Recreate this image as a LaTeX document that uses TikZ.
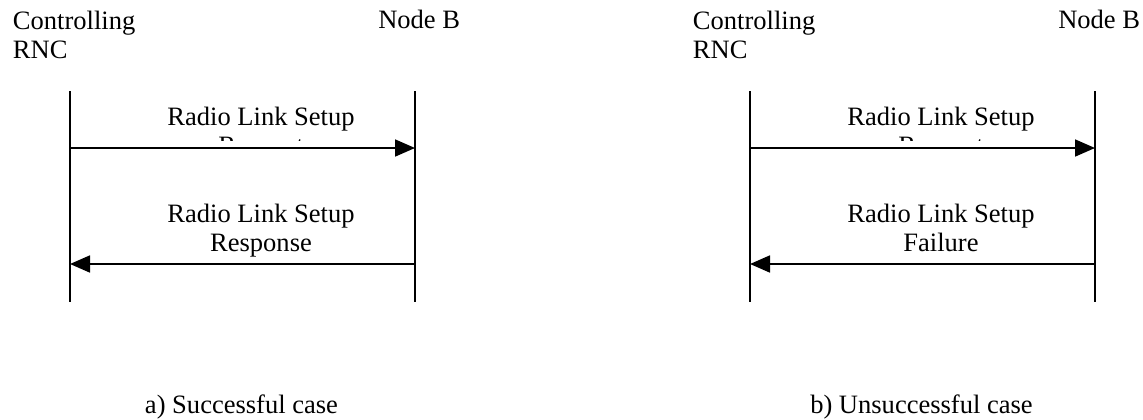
\documentclass[tikz,border=0pt]{standalone}
\usepackage{fontspec}
\setmainfont{Liberation Serif}
\usetikzlibrary{arrows.meta}

\begin{document}
\begin{tikzpicture}[x=0.75pt,y=-0.75pt,
    every node/.style={inner sep=0pt,font=\fontsize{19.9pt}{21.75pt}\selectfont},
    life/.style={line width=1.2pt},
    msg/.style={line width=1.3pt,-{Triangle[length=15pt,width=12.75pt]}}]
  \useasboundingbox (0,0) rectangle (1143,419);
  \foreach \p/\dx/\ans/\cap in {a/0/Response/{a) Successful case},b/680/Failure/{b) Unsuccessful case}} {
    \node (rnc\p) at (12.7+\dx,11) [anchor=north west, align=left] {Controlling\\RNC};
    \node (nb\p) at (378+\dx,28) [anchor=base west] {Node B};
    \coordinate (rnc\p top) at (70+\dx,91);
    \coordinate (rnc\p bot) at (70+\dx,302);
    \coordinate (nb\p top) at (415+\dx,91);
    \coordinate (nb\p bot) at (415+\dx,302);
    \coordinate (req\p s) at (70+\dx,148);
    \coordinate (req\p e) at (415+\dx,148);
    \coordinate (ans\p s) at (415+\dx,264);
    \coordinate (ans\p e) at (70+\dx,264);
    \draw[life] (rnc\p top) -- (rnc\p bot)  (nb\p top) -- (nb\p bot);
    \begin{scope}
      \clip (100+\dx,95) rectangle (400+\dx,140);
      \node (reqlbl\p) at (261+\dx,107) [anchor=north, align=center] {Radio Link Setup\\Request};
    \end{scope}
    \node (anslbl\p) at (261+\dx,204) [anchor=north, align=center] {Radio Link Setup\\\ans};
    \draw[msg] (req\p s) -- (req\p e);
    \draw[msg] (ans\p s) -- (ans\p e);
    \node (cap\p) at (241.5+\dx,413) [anchor=base] {\cap};
  }
\end{tikzpicture}
\end{document}
